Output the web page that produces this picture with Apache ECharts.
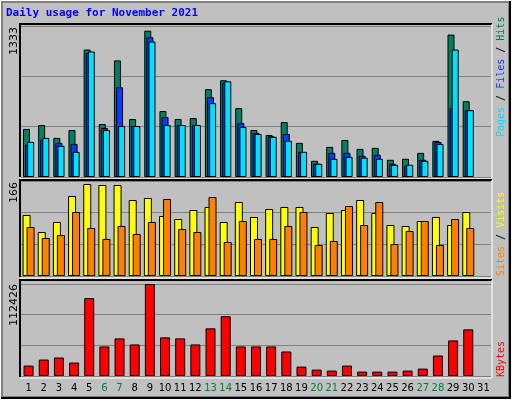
<!DOCTYPE html>
<html>
<head>
<meta charset="utf-8">
<script src="https://cdn.jsdelivr.net/npm/echarts@6/dist/echarts.min.js"></script>
<style>
  html,body{margin:0;padding:0;background:#c0c0c0;}
  #chart{width:512px;height:400px;}
</style>
</head>
<body>
<div id="chart"></div>
<script>
// daily values (day 31 has no data)
var days = ['1','2','3','4','5','6','7','8','9','10','11','12','13','14','15','16','17','18','19','20','21','22','23','24','25','26','27','28','29','30','31'];
var weekend = ['6','7','13','14','20','21','27','28'];
var hits  = [424,459,345,415,1125,468,1029,512,1292,582,512,520,775,854,608,415,371,485,301,143,266,327,248,257,152,161,213,319,1257,669,null];
var files = [284,330,301,292,1096,433,792,450,1234,529,459,459,704,833,476,389,360,380,222,117,213,213,187,196,117,99,152,310,608,590,null];
var pages = [310,345,275,222,1108,415,450,450,1196,459,459,459,652,845,441,380,354,319,222,117,161,178,170,161,108,108,143,292,1125,590,null];
var visits = [106.6,76.9,94.4,139.8,160.8,159,159,132.8,136.3,104.8,99.6,115.3,120.6,94.4,129.3,103.1,117.1,120.6,120.6,85.6,110.1,115.3,132.8,110.1,89.1,87.4,96.1,103.1,89.1,111.8,null];
var sites  = [85.6,66.4,71.6,111.8,83.9,64.7,87.4,73.4,94.4,134.5,82.1,76.9,138,59.4,96.1,64.7,64.7,87.4,111.8,54.2,61.2,122.3,89.1,129.3,55.9,78.6,96.1,54.2,99.6,83.9,null];
var kbytes = [12720,20100,22570,16410,95200,36100,45950,38570,112426,47190,45950,38570,58270,73040,36100,36100,36100,29950,11490,7800,6570,12720,5330,5330,5330,6570,9030,25030,43490,57030,null];
var maxHits = 1333, maxVisits = 166, maxKb = 112426;

var chart = echarts.init(document.getElementById('chart'));
var mono = 'DejaVu Sans Mono';

function xAxis(idx, showLabels) {
  return {
    type:'category', gridIndex:idx, data:days,
    axisLine:{show:false}, axisTick:{show:false},
    axisLabel:{show:showLabels, interval:0, fontFamily:'DejaVu Sans', fontSize:10, margin:7,
      color:function(v){ return weekend.indexOf(v) >= 0 ? '#008040' : '#000'; }}
  };
}
function yAxis(idx, max) {
  return {
    type:'value', gridIndex:idx, min:0, max:max, interval:max/3,
    axisLabel:{show:false}, axisLine:{show:false}, axisTick:{show:false},
    splitLine:{show:true, lineStyle:{color:'#808080', width:1}}
  };
}
function bar(name, x, data, color, width, gap) {
  return {
    name:name, type:'bar', xAxisIndex:x, yAxisIndex:x, data:data,
    barWidth:width, barGap:gap, animation:false,
    itemStyle:{color:color, borderColor:'#000', borderWidth:1}
  };
}

var option = {
  backgroundColor:'#c0c0c0',
  animation:false,
  grid:[
    {left:21, right:21, top:26, height:151},
    {left:21, right:21, top:181, height:95},
    {left:21, right:21, top:284, height:92}
  ],
  xAxis:[xAxis(0,false), xAxis(1,false), xAxis(2,true)],
  yAxis:[yAxis(0,maxHits), yAxis(1,maxVisits), yAxis(2,maxKb)],
  series:[
    bar('Hits',0,hits,'#008060',7,'-70%'),
    bar('Files',0,files,'#0040ff',7,'-70%'),
    bar('Pages',0,pages,'#00e0ff',7,'-70%'),
    bar('Visits',1,visits,'#ffff00',8,'-50%'),
    bar('Sites',1,sites,'#ff8000',8,'-50%'),
    bar('KBytes',2,kbytes,'#ff0000',10,'0%')
  ],
  graphic:[
    // outer bevel
    {type:'rect', shape:{x:0.5,y:0.5,width:511,height:399}, style:{fill:null, stroke:'#ffffff', lineWidth:1}, z:-1},
    {type:'rect', shape:{x:2,y:2,width:507,height:395}, style:{fill:null, stroke:'#808080', lineWidth:2}, z:-1},
    {type:'line', shape:{x1:1,y1:398,x2:511,y2:398}, style:{stroke:'#000',lineWidth:2}},
    {type:'line', shape:{x1:510,y1:1,x2:510,y2:399}, style:{stroke:'#000',lineWidth:2}},
    // panel frames
    {type:'polyline', shape:{points:[[20,177],[20,24],[492,24]]}, style:{stroke:'#000',lineWidth:2,fill:null}},
    {type:'polyline', shape:{points:[[20,178],[492,178],[492,24]]}, style:{stroke:'#fff',lineWidth:1,fill:null}},
    {type:'polyline', shape:{points:[[20,277],[20,180],[492,180]]}, style:{stroke:'#000',lineWidth:2,fill:null}},
    {type:'polyline', shape:{points:[[20,278],[492,278],[492,180]]}, style:{stroke:'#fff',lineWidth:1,fill:null}},
    {type:'polyline', shape:{points:[[20,377],[20,280],[492,280]]}, style:{stroke:'#000',lineWidth:2,fill:null}},
    {type:'polyline', shape:{points:[[20,378],[492,378],[492,280]]}, style:{stroke:'#fff',lineWidth:1,fill:null}},
    // title
    {type:'text', left:6, top:8, style:{text:'Daily usage for November 2021', fill:'#0000ff', font:'bold 11px '+mono}},
    // max labels
    {type:'text', x:20, y:27, rotation:Math.PI/2, style:{text:String(maxHits), fill:'#000', font:'11px DejaVu Sans', align:'right', verticalAlign:'bottom'}},
    {type:'text', x:20, y:182, rotation:Math.PI/2, style:{text:String(maxVisits), fill:'#000', font:'11px DejaVu Sans', align:'right', verticalAlign:'bottom'}},
    {type:'text', x:20, y:284, rotation:Math.PI/2, style:{text:String(maxKb), fill:'#000', font:'11px DejaVu Sans', align:'right', verticalAlign:'bottom'}},
    // right legends (rotated, read bottom-to-top)
    {type:'text', x:496, y:137, rotation:Math.PI/2, style:{
      text:'{p|Pages}{s| / }{f|Files}{s| / }{h|Hits}', align:'left', verticalAlign:'top',
      rich:{p:{fill:'#00e0ff',font:'10px '+mono}, f:{fill:'#0040ff',font:'10px '+mono}, h:{fill:'#008060',font:'10px '+mono}, s:{fill:'#000',font:'10px '+mono}}}},
    {type:'text', x:496, y:276, rotation:Math.PI/2, style:{
      text:'{a|Sites}{s| / }{b|Visits}', align:'left', verticalAlign:'top',
      rich:{a:{fill:'#ff8000',font:'10px '+mono}, b:{fill:'#ffff00',font:'10px '+mono}, s:{fill:'#000',font:'10px '+mono}}}},
    {type:'text', x:496, y:377, rotation:Math.PI/2, style:{text:'KBytes', fill:'#ff0000', font:'10px '+mono, align:'left', verticalAlign:'top'}}
  ]
};
chart.setOption(option);
</script>
</body>
</html>
